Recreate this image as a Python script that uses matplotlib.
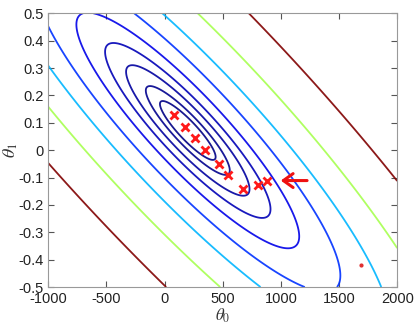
import numpy as np
import matplotlib
matplotlib.use('Agg')
import matplotlib.pyplot as plt
from matplotlib.colors import Normalize

# cost surface J(theta0, theta1), theta0 measured in thousands
J_CENTER = (200.0, 0.072)
J_COEFFS = (1.0, 2.0, 4.95)   # a, b, c of a*u^2 + 2*b*u*v + c*v^2
LEVELS = [0.011, 0.025, 0.054, 0.097, 0.176, 0.33, 0.58, 1.06, 2.08]

# gradient descent steps
PATH_THETA0 = [882, 805, 676, 545, 470, 350, 266, 180, 83]
PATH_THETA1 = [-0.113, -0.129, -0.140, -0.089, -0.052, 0.002, 0.044, 0.083, 0.128]
STRAY_THETA0 = [1687]
STRAY_THETA1 = [-0.421]
ARROW_FROM = (1249, -0.111)
ARROW_TO = (975, -0.111)

X_TICKS = [-1000, -500, 0, 500, 1000, 1500, 2000]
Y_TICKS = [-0.5, -0.4, -0.3, -0.2, -0.1, 0, 0.1, 0.2, 0.3, 0.4, 0.5]
Y_TICK_LABELS = ['-0.5', '-0.4', '-0.3', '-0.2', '-0.1', '0',
                 '0.1', '0.2', '0.3', '0.4', '0.5']


def cost(t0, t1):
    u = (t0 - J_CENTER[0]) / 1000.0
    v = t1 - J_CENTER[1]
    a, b, c = J_COEFFS
    return a * u * u + 2 * b * u * v + c * v * v


plt.rcParams['font.family'] = ['Liberation Sans', 'DejaVu Sans']
plt.rcParams['mathtext.fontset'] = 'stix'
plt.rcParams['axes.unicode_minus'] = False
fig = plt.figure(figsize=(4.19, 3.24), dpi=100)
ax = fig.add_axes([0.115, 0.114, 0.833, 0.845])

t0 = np.linspace(X_TICKS[0], X_TICKS[-1], 500)
t1 = np.linspace(Y_TICKS[0], Y_TICKS[-1], 500)
T0, T1 = np.meshgrid(t0, t1)
ax.contour(T0, T1, cost(T0, T1), levels=LEVELS, cmap='jet',
           norm=Normalize(0, 1.92), linewidths=1.3, alpha=0.9)

ax.plot(PATH_THETA0, PATH_THETA1, 'x', color='#ff1a1a', markersize=6,
        mew=2.0, linestyle='none')
ax.plot(STRAY_THETA0, STRAY_THETA1, 'o', color='#e03030', markersize=2,
        linestyle='none')
ax.annotate('', xy=ARROW_TO, xytext=ARROW_FROM,
            arrowprops=dict(arrowstyle='->,head_length=0.7,head_width=0.5',
                            color='#ee1111', lw=2.2))

ax.set_xlim(X_TICKS[0], X_TICKS[-1])
ax.set_ylim(Y_TICKS[0], Y_TICKS[-1])
ax.set_xticks(X_TICKS)
ax.set_yticks(Y_TICKS)
ax.set_yticklabels(Y_TICK_LABELS)
ax.tick_params(direction='in', top=True, right=True, length=4,
               labelsize=10.5, colors='#555555', labelcolor='#222222')
for spine in ax.spines.values():
    spine.set_color('#999999')
ax.set_xlabel(r'$\theta_0$', fontsize=12, color='#333333')
ax.set_ylabel(r'$\theta_1$', fontsize=13, color='#333333')
ax.xaxis.set_label_coords(0.5, -0.07)
ax.yaxis.set_label_coords(-0.082, 0.5)

fig.savefig('out.png', dpi=100)
